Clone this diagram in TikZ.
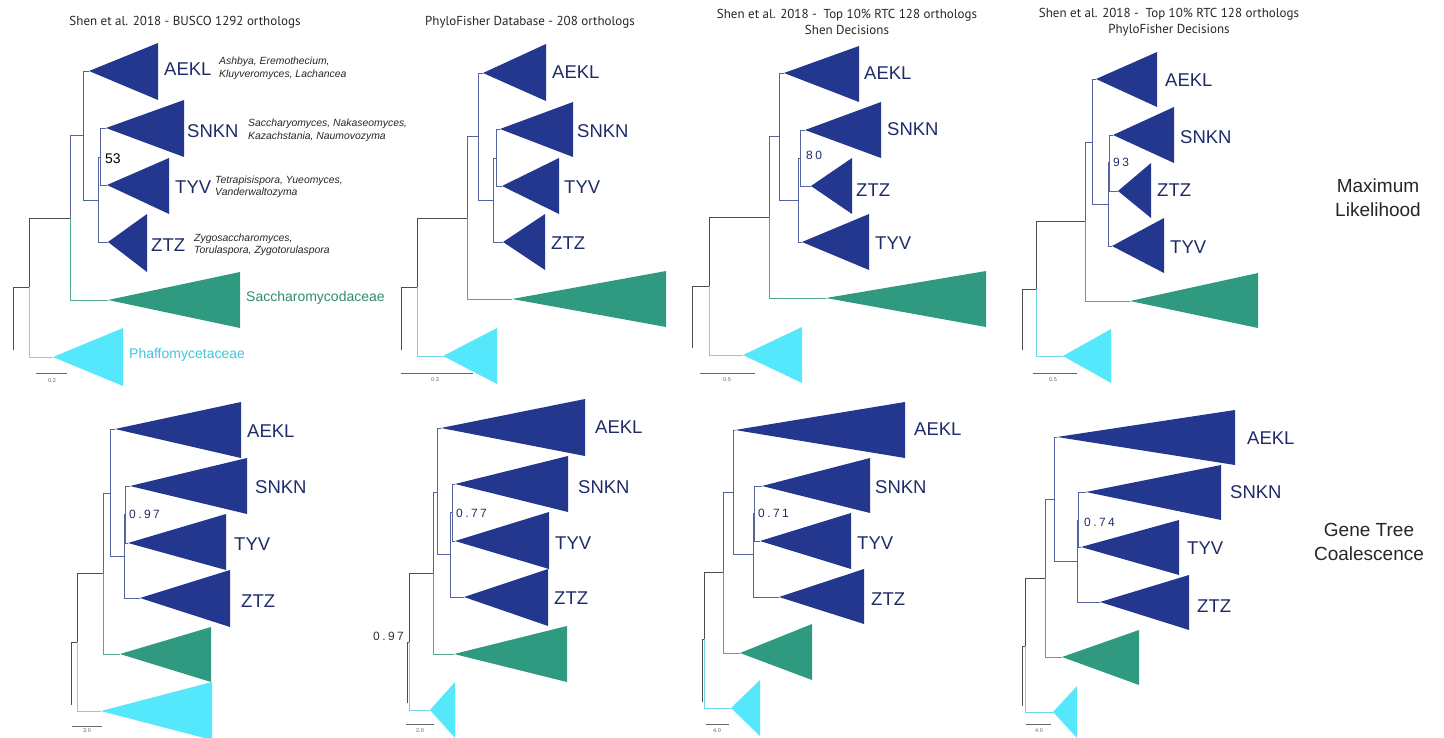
\documentclass[tikz,border=0pt]{standalone}
\usepackage{fontspec}
\setmainfont{Liberation Sans}
\newfontfamily\titlefont{PT Sans}
\newfontfamily\spacedfont[LetterSpace=20]{Liberation Sans}
\definecolor{clB}{HTML}{23378F}
\definecolor{txB}{HTML}{1E2B68}
\definecolor{clG}{HTML}{2F9A80}
\definecolor{txG}{HTML}{2E8C72}
\definecolor{clC}{HTML}{55E8FC}
\definecolor{txC}{HTML}{3FC6DA}
\definecolor{lnB}{HTML}{5563A0}
\definecolor{lnK}{HTML}{4D4D4D}
\definecolor{lnG}{HTML}{52A890}
\definecolor{lnC}{HTML}{6FD8E8}
\newcommand\tri[4]{\fill[#1] (#2) -- (#3) -- (#4) -- cycle;}
\tikzset{
  blk/.style={draw=lnK,line width=0.8pt},
  blu/.style={draw=lnB,line width=0.8pt},
  grn/.style={draw=lnG,line width=0.8pt},
  cyn/.style={draw=lnC,line width=0.9pt},
  clab/.style={inner sep=0pt,text=txB,font=\fontsize{18.5}{20}\selectfont,anchor=west},
  spec/.style={inner sep=0pt,text=black!85,font=\fontsize{10.4}{12.5}\itshape,align=left,anchor=west},
  supp/.style={inner sep=0pt,text=txB,font=\spacedfont\fontsize{12}{14}\selectfont,anchor=west},
  ttl/.style={inner sep=0pt,text=black!85,font=\titlefont\fontsize{13}{16}\selectfont,align=center},
  side/.style={inner sep=0pt,text=black!85,font=\fontsize{19}{24}\selectfont,align=center},
  sbar/.style={draw=black!60,line width=1pt},
  slab/.style={inner sep=0pt,text=black!60,font=\fontsize{5.5}{6}\selectfont},
}
\begin{document}
\begin{tikzpicture}[x=1pt,y=-1pt]
\useasboundingbox (0,0) rectangle (1444,738);
% ================= Tree 1 =================
\node[ttl] (t1title) at (185,22) {Shen et al. 2018 - BUSCO 1292 orthologs};
\draw[blk] (13,350) -- (13,287) -- (29,287) -- (29,218) -- (70,218);
\draw[cyn] (29,287) -- (29,357) -- (53,357);
\draw[grn] (70,218) -- (70,300) -- (108,300);
\draw[blu] (70,218) -- (70,135) -- (83,135);
\draw[blu] (89,71) -- (83,71) -- (83,200) -- (98,200);
\draw[blu] (98,157) -- (98,242) -- (108,242);
\draw[blu] (98,157) -- (100,157);
\draw[blu] (106,128) -- (100,128) -- (100,185) -- (107,185);
\tri{clB}{89,71}{158,43}{158,100}
\tri{clB}{106,128}{184,100}{184,157}
\tri{clB}{107,185}{169,158}{169,214}
\tri{clB}{108,242}{147,214}{147,272}
\tri{clG}{108,300}{240,272}{240,328}
\tri{clC}{53,357}{123,328}{123,386}
\node[clab] (t1a) at (164,69) {AEKL};
\node[clab] (t1s) at (187,131) {SNKN};
\node[clab] (t1t) at (175,187) {TYV};
\node[clab] (t1z) at (151,245) {ZTZ};
\node[spec] (t1as) at (219,68.5) {Ashbya, Eremothecium,\\Kluyveromyces, Lachancea};
\node[spec] (t1ss) at (248,130.5) {Saccharyomyces, Nakaseomyces,\\Kazachstania, Naumovozyma};
\node[spec] (t1ts) at (215,187) {Tetrapisispora, Yueomyces,\\Vanderwaltozyma};
\node[spec] (t1zs) at (194,245) {Zygosaccharomyces,\\Torulaspora, Zygotorulaspora};
\node[inner sep=0pt,anchor=west,font=\fontsize{14}{16}\selectfont] (t1b) at (105,159) {53};
\node[clab,text=txG,font=\fontsize{14}{18}\selectfont] (t1g) at (246,298) {Saccharomycodaceae};
\node[clab,text=txC,font=\fontsize{14}{18}\selectfont] (t1c) at (129,355) {Phaffomycetaceae};
\draw[sbar] (36,373) -- (67,373);
\node[slab] (t1sc) at (52,381) {0.2};
% ================= Tree 2 =================
\node[ttl] (t2title) at (530,22) {PhyloFisher Database - 208 orthologs};
\draw[blk] (401,350) -- (401,287) -- (417,287) -- (417,218) -- (467,218);
\draw[cyn] (417,287) -- (417,356) -- (443,356);
\draw[grn] (467,218) -- (467,299) -- (512,299);
\draw[blu] (467,218) -- (467,136) -- (478,136);
\draw[blu] (483,73) -- (478,73) -- (478,200) -- (493,200);
\draw[blu] (493,158) -- (493,242) -- (503,242);
\draw[blu] (493,158) -- (496,158);
\draw[blu] (500,129) -- (496,129) -- (496,186) -- (502,186);
\tri{clB}{483,73}{546,44}{546,101}
\tri{clB}{500,129}{573,102}{573,157}
\tri{clB}{502,186}{559,158}{559,214}
\tri{clB}{503,242}{545,214}{545,270}
\tri{clG}{512,299}{666,271}{666,327}
\tri{clC}{443,356}{497,328}{497,384}
\node[clab] (t2a) at (552,72) {AEKL};
\node[clab] (t2s) at (577,131) {SNKN};
\node[clab] (t2t) at (564,187) {TYV};
\node[clab] (t2z) at (551,243) {ZTZ};
\draw[sbar] (401,373) -- (473,373);
\node[slab] (t2sc) at (435,380) {0.3};
% ================= Tree 3 =================
\node[ttl] (t3title) at (847,22) {Shen et al. 2018 -\ \ Top 10\% RTC 128 orthologs\\Shen Decisions};
\draw[blk] (692,348) -- (692,286) -- (709,286) -- (709,217) -- (769,217);
\draw[cyn] (709,286) -- (709,355) -- (743,355);
\draw[grn] (769,217) -- (769,298) -- (826,298);
\draw[blu] (769,217) -- (769,136) -- (779,136);
\draw[blu] (784,73) -- (779,73) -- (779,200) -- (798,200);
\draw[blu] (798,158) -- (798,242) -- (802,242);
\draw[blu] (798,158) -- (800,158);
\draw[blu] (805,130) -- (800,130) -- (800,186) -- (811,186);
\tri{clB}{784,73}{859,46}{859,102}
\tri{clB}{805,130}{881,102}{881,158}
\tri{clB}{811,186}{852,158}{852,214}
\tri{clB}{802,242}{869,214}{869,270}
\tri{clG}{826,298}{986,271}{986,327}
\tri{clC}{743,355}{802,327}{802,383}
\node[clab] (t3a) at (864,73) {AEKL};
\node[clab] (t3s) at (887,129) {SNKN};
\node[clab] (t3z) at (856,190) {ZTZ};
\node[clab] (t3t) at (875,243) {TYV};
\node[supp] (t3b) at (806,155) {80};
\draw[sbar] (700,373) -- (755,373);
\node[slab] (t3sc) at (727,380) {0.5};
% ================= Tree 4 =================
\node[ttl] (t4title) at (1169,22) {Shen et al. 2018 -\ \ Top 10\% RTC 128 orthologs\\PhyloFisher Decisions};
\draw[blk] (1022,350) -- (1022,289) -- (1036,289) -- (1036,221) -- (1085,221);
\draw[cyn] (1036,289) -- (1036,356) -- (1063,356);
\draw[grn] (1085,221) -- (1085,301) -- (1130,301);
\draw[blu] (1085,221) -- (1085,142) -- (1092,142);
\draw[blu] (1096,79) -- (1092,79) -- (1092,204) -- (1108,204);
\draw[blu] (1108,162) -- (1108,246) -- (1112,246);
\draw[blu] (1108,162) -- (1109,162);
\draw[blu] (1113,135) -- (1109,135) -- (1109,191) -- (1118,191);
\tri{clB}{1096,79}{1157,52}{1157,107}
\tri{clB}{1113,135}{1174,107}{1174,163}
\tri{clB}{1118,191}{1151,163}{1151,218}
\tri{clB}{1112,246}{1164,218}{1164,273}
\tri{clG}{1130,301}{1258,273}{1258,328}
\tri{clC}{1063,356}{1111,329}{1111,383}
\node[clab] (t4a) at (1165,80) {AEKL};
\node[clab] (t4s) at (1180,137) {SNKN};
\node[clab] (t4z) at (1157,190) {ZTZ};
\node[clab] (t4t) at (1170,247) {TYV};
\node[supp] (t4b) at (1113,162) {93};
\draw[sbar] (1033,373) -- (1077,373);
\node[slab] (t4sc) at (1053,380) {0.5};
\node[side] (ml) at (1378,198) {Maximum\\Likelihood};
% ================= Tree 5 =================
\draw[blk] (71,705) -- (71,642) -- (77,642) -- (77,573) -- (103,573);
\draw[cyn] (77,642) -- (77,711) -- (101,711);
\draw[grn] (103,573) -- (103,654) -- (120,654);
\draw[blu] (103,573) -- (103,493) -- (110,493);
\draw[blu] (115,429) -- (110,429) -- (110,556) -- (124,556);
\draw[blu] (130,486) -- (125,486) -- (125,543) -- (128,543);
\draw[blu] (125,514) -- (124,514) -- (124,598) -- (140,598);
\tri{clB}{115,429}{241,402}{241,458}
\tri{clB}{130,486}{247,458}{247,514}
\tri{clB}{128,543}{226,514}{226,570}
\tri{clB}{140,598}{230,570}{230,627}
\tri{clG}{120,654}{211,627}{211,682}
\tri{clC}{101,711}{212,682}{212,740}
\node[clab] (t5a) at (247,431) {AEKL};
\node[clab] (t5s) at (255,487) {SNKN};
\node[clab] (t5t) at (234,544) {TYV};
\node[clab] (t5z) at (241,601) {ZTZ};
\node[supp] (t5b) at (129,514) {0.97};
\draw[sbar] (72,726) -- (102,726);
\node[slab] (t5sc) at (87,731) {3.0};
% ================= Tree 6 =================
\draw[blk] (407,703) -- (407,642) -- (409,642) -- (409,573) -- (433,573);
\draw[cyn] (409,642) -- (409,710) -- (430,710);
\draw[grn] (433,573) -- (433,654) -- (454,654);
\draw[blu] (433,573) -- (433,492) -- (437,492);
\draw[blu] (441,428) -- (437,428) -- (437,554) -- (451,554);
\draw[blu] (455,484) -- (452,484) -- (452,541) -- (455,541);
\draw[blu] (452,512) -- (450,512) -- (450,597) -- (464,597);
\tri{clB}{441,428}{585,399}{585,456}
\tri{clB}{455,484}{568,456}{568,512}
\tri{clB}{455,541}{549,512}{549,569}
\tri{clB}{464,597}{548,569}{548,626}
\tri{clG}{454,654}{567,626}{567,682}
\tri{clC}{430,710}{455,682}{455,738}
\node[clab] (t6a) at (595,427) {AEKL};
\node[clab] (t6s) at (578,487) {SNKN};
\node[clab] (t6t) at (555,543) {TYV};
\node[clab] (t6z) at (554,598) {ZTZ};
\node[supp] (t6b) at (456,513) {0.77};
\node[supp,text=black!80] (t6r) at (373,636) {0.97};
\draw[sbar] (406,724) -- (434,724);
\node[slab] (t6sc) at (420,731) {2.0};
% ================= Tree 7 =================
\draw[blk] (702,702) -- (702,639) -- (704,639) -- (704,572) -- (723,572);
\draw[cyn] (704,639) -- (704,708) -- (731,708);
\draw[grn] (723,572) -- (723,653) -- (740,653);
\draw[blu] (723,572) -- (723,492) -- (733,492);
\draw[blu] (735,430) -- (733,430) -- (733,554) -- (753,554);
\draw[blu] (762,486) -- (754,486) -- (754,541) -- (760,541);
\draw[blu] (754,513) -- (753,513) -- (753,597) -- (779,597);
\tri{clB}{735,430}{905,402}{905,458}
\tri{clB}{762,486}{870,458}{870,513}
\tri{clB}{760,541}{851,513}{851,569}
\tri{clB}{779,597}{864,569}{864,624}
\tri{clG}{740,653}{812,624}{812,680}
\tri{clC}{731,708}{760,680}{760,736}
\node[clab] (t7a) at (914,429) {AEKL};
\node[clab] (t7s) at (875,487) {SNKN};
\node[clab] (t7t) at (857,543) {TYV};
\node[clab] (t7z) at (871,599) {ZTZ};
\node[supp] (t7b) at (758,513) {0.71};
\draw[sbar] (706,724) -- (729,724);
\node[slab] (t7sc) at (717,731) {4.0};
% ================= Tree 8 =================
\draw[blk] (1022,706) -- (1022,646) -- (1025,646) -- (1025,578) -- (1045,578);
\draw[cyn] (1025,646) -- (1025,712) -- (1053,712);
\draw[grn] (1045,578) -- (1045,657) -- (1062,657);
\draw[blu] (1045,578) -- (1045,499) -- (1054,499);
\draw[blu] (1057,437) -- (1054,437) -- (1054,561) -- (1077,561);
\draw[blu] (1086,492) -- (1078,492) -- (1078,547) -- (1081,547);
\draw[blu] (1078,520) -- (1077,520) -- (1077,602) -- (1100,602);
\tri{clB}{1057,437}{1235,410}{1235,465}
\tri{clB}{1086,492}{1221,465}{1221,520}
\tri{clB}{1081,547}{1179,520}{1179,575}
\tri{clB}{1100,602}{1189,575}{1189,630}
\tri{clG}{1062,657}{1139,630}{1139,685}
\tri{clC}{1053,712}{1077,686}{1077,738}
\node[clab] (t8a) at (1247,438) {AEKL};
\node[clab] (t8s) at (1230,492) {SNKN};
\node[clab] (t8t) at (1187,548) {TYV};
\node[clab] (t8z) at (1197,606) {ZTZ};
\node[supp] (t8b) at (1084,522) {0.74};
\draw[sbar] (1026,724) -- (1051,724);
\node[slab] (t8sc) at (1039,731) {4.0};
\node[side] (gtc) at (1369,542) {Gene Tree\\Coalescence};
\end{tikzpicture}
\end{document}
